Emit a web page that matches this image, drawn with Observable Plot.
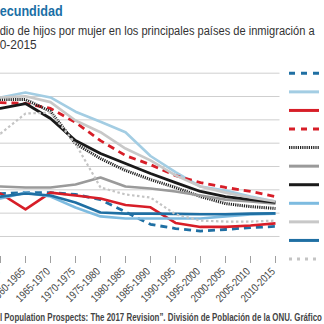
<!DOCTYPE html>
<html><head><meta charset="utf-8">
<script src="https://cdn.jsdelivr.net/npm/d3@7"></script>
<script src="https://cdn.jsdelivr.net/npm/@observablehq/plot@0.6"></script>
<style>
html,body{margin:0;padding:0;width:324px;height:324px;overflow:hidden;background:#fff;}
body{position:relative;font-family:"Liberation Sans",Arial,sans-serif;}
.cl{position:absolute;left:0;white-space:nowrap;line-height:1;transform-origin:0 0;}
#title{top:3.3px;font-size:15px;font-weight:bold;color:#1a6fa6;}
#sub1{top:24.9px;font-size:12px;color:#333;}
#sub2{top:38.9px;font-size:12px;color:#333;}
#source{top:312.5px;font-size:10px;font-weight:bold;color:#444;}
#chart{position:absolute;left:-40px;top:60px;}
#legend{position:absolute;left:280px;top:60px;overflow:visible;}
</style></head>
<body>
<div class="cl" id="title" data-w="63"><span class="pre">F</span>ecundidad</div>
<div class="cl" id="sub1" data-w="315"><span class="pre">Prome</span>dio de hijos por mujer en los principales países de inmigración a</div>
<div class="cl" id="sub2" data-w="37"><span class="pre">España, 195</span>0-2015</div>
<div class="cl" id="source" data-w="322"><span class="pre">Fuente: “Wor</span>l Population Prospects: The 2017 Revision”. División de Población de la ONU. Gráfico</div>
<div id="chart"></div>
<script>
// ---- data ----
const periods = ["1950-1955","1955-1960","1960-1965","1965-1970","1970-1975","1975-1980","1980-1985","1985-1990","1990-1995","1995-2000","2000-2005","2005-2010","2010-2015"];
const gridValues = [1,2,3,4,5,6,7,8];

const espana     = [2.60, 2.84, 2.88, 2.88, 2.80, 2.58, 2.05, 1.52, 1.34, 1.23, 1.30, 1.38, 1.43];
const marruecos  = [6.90, 6.96, 7.17, 6.96, 6.35, 5.92, 5.47, 4.45, 3.76, 3.14, 2.97, 2.71, 2.50];
const rumania    = [2.90, 2.84, 2.16, 2.88, 2.76, 2.63, 2.35, 2.25, 1.58, 1.41, 1.41, 1.47, 1.56];
const ecuador    = [6.70, 6.74, 6.70, 6.49, 5.89, 5.11, 4.47, 4.08, 3.61, 3.31, 3.10, 2.93, 2.71];
const colombia   = [6.80, 6.87, 6.87, 6.36, 4.98, 4.34, 3.83, 3.44, 3.10, 2.71, 2.41, 2.28, 2.20];
const argentina  = [3.15, 3.14, 3.10, 3.10, 3.23, 3.53, 3.14, 3.06, 2.93, 2.76, 2.58, 2.50, 2.41];
const peru       = [6.50, 6.49, 6.70, 6.06, 5.11, 4.56, 4.13, 3.70, 3.31, 2.93, 2.71, 2.58, 2.46];
const francia    = [2.70, 2.63, 2.88, 2.71, 2.24, 1.86, 1.77, 1.77, 1.77, 1.77, 1.86, 1.94, 1.98];
const venezuela  = [6.80, 6.96, 7.01, 6.76, 5.97, 5.47, 4.77, 4.26, 3.62, 3.14, 2.88, 2.67, 2.50];
const reinoUnido = [2.40, 2.71, 2.84, 2.76, 2.46, 2.03, 1.98, 1.98, 1.97, 1.95, 1.95, 1.98, 1.99];
const china      = [5.50, 5.41, 6.27, 6.31, 4.98, 3.10, 2.80, 2.67, 1.95, 1.68, 1.64, 1.64, 1.68];

const series = [
  {name:"España",       values:espana,     stroke:"#1f6fa3", width:2.8, dash:"7,5",     legDash:"6,6"},
  {name:"Marruecos",    values:marruecos,  stroke:"#a3cde3", width:2.6, dash:null,      legDash:null},
  {name:"Rumanía",      values:rumania,    stroke:"#d71e28", width:2.6, dash:null,      legDash:null},
  {name:"Ecuador",      values:ecuador,    stroke:"#d71e28", width:2.8, dash:"7,5",     legDash:"6,6"},
  {name:"Colombia",     values:colombia,   stroke:"#222222", width:3,   dash:"1.2,1",   legDash:"1.2,1"},
  {name:"Argentina",    values:argentina,  stroke:"#9a9a9a", width:2.6, dash:null,      legDash:null},
  {name:"Perú",         values:peru,       stroke:"#1a1a1a", width:2.8, dash:null,      legDash:null},
  {name:"Francia",      values:francia,    stroke:"#7dbbe0", width:2.6, dash:null,      legDash:null},
  {name:"Venezuela",    values:venezuela,  stroke:"#c8c8c8", width:2.6, dash:null,      legDash:null},
  {name:"Reino Unido",  values:reinoUnido, stroke:"#1f6fa3", width:2.6, dash:null,      legDash:null},
  {name:"China",        values:china,      stroke:"#c4c4c4", width:2.2, dash:"2.5,2.5", legDash:"3,5"}
];

// cropped texts: squeeze horizontally to the reference width, hide the cut prefix
document.querySelectorAll(".cl").forEach(el => {
  const pre = el.querySelector(".pre");
  const p = pre.getBoundingClientRect().width;
  const w = el.getBoundingClientRect().width;
  const s = (+el.dataset.w) / (w - p);
  el.style.transform = `scaleX(${s})`;
  el.style.left = (-p * s) + "px";
});

const FONT = '"Liberation Sans",Arial,sans-serif';
const SHIFT_X = -40, SHIFT_Y = 60;   // where the chart svg sits on the page

const lineMarks = series.map(s => Plot.line(
  periods.map((p, i) => ({period: p, value: s.values[i]})),
  {x: "period", y: "value", stroke: s.stroke, strokeWidth: s.width,
   strokeDasharray: s.dash ?? undefined, strokeLinejoin: "round", strokeLinecap: "butt"}
));

const chart = Plot.plot({
  width: 324, height: 252,
  marginLeft: 10.5, marginRight: 4.5, marginTop: 12.7, marginBottom: 56,
  x: {type: "point", domain: periods, padding: 0, label: null},
  y: {domain: [0, 8], range: [199.3, 12.7], axis: null, label: null},
  style: {fontFamily: FONT, fontSize: "11px", color: "#444", background: "transparent", overflow: "visible"},
  marks: [
    Plot.gridY(gridValues, {stroke: "#cfcfcf", strokeOpacity: 1, strokeWidth: 1}),
    Plot.axisX({tickSize: 7, stroke: "#a0a0a0", tickFormat: () => "", label: null}),
    Plot.text(periods, {x: d => d, frameAnchor: "bottom", dy: 10, rotate: -45,
                        textAnchor: "end", lineAnchor: "middle", fontSize: 11, fill: "#444"}),
    ...lineMarks
  ]
});
document.getElementById("chart").appendChild(chart);

// tick labels: condensed look, then pin each label's upper-right end just below its tick
const xs = chart.scale("x");
chart.querySelectorAll('g[aria-label="text"] text').forEach((t, i) => {
  t.setAttribute("transform", (t.getAttribute("transform") || "") + " scale(0.82,1)");
  const r = t.getBoundingClientRect();
  const tx = xs.apply(periods[i]) + SHIFT_X + 2.5;
  const ty = 265;
  t.setAttribute("transform", `translate(${tx - r.right},${ty - r.top}) ` + t.getAttribute("transform"));
});

// legend (labels fall outside the cropped view)
const leg = d3.select("body").append("svg").attr("id", "legend").attr("width", 120).attr("height", 220);
series.forEach((s, k) => {
  const y = 13.3 + 18.57 * k;
  leg.append("line").attr("x1", 9).attr("x2", 39).attr("y1", y).attr("y2", y)
    .attr("stroke", s.stroke).attr("stroke-width", 3)
    .attr("stroke-dasharray", s.legDash);
  leg.append("text").attr("x", 45).attr("y", y + 4).attr("font-size", 11)
    .attr("font-family", FONT).attr("fill", "#333").text(s.name);
});
</script>
</body></html>
